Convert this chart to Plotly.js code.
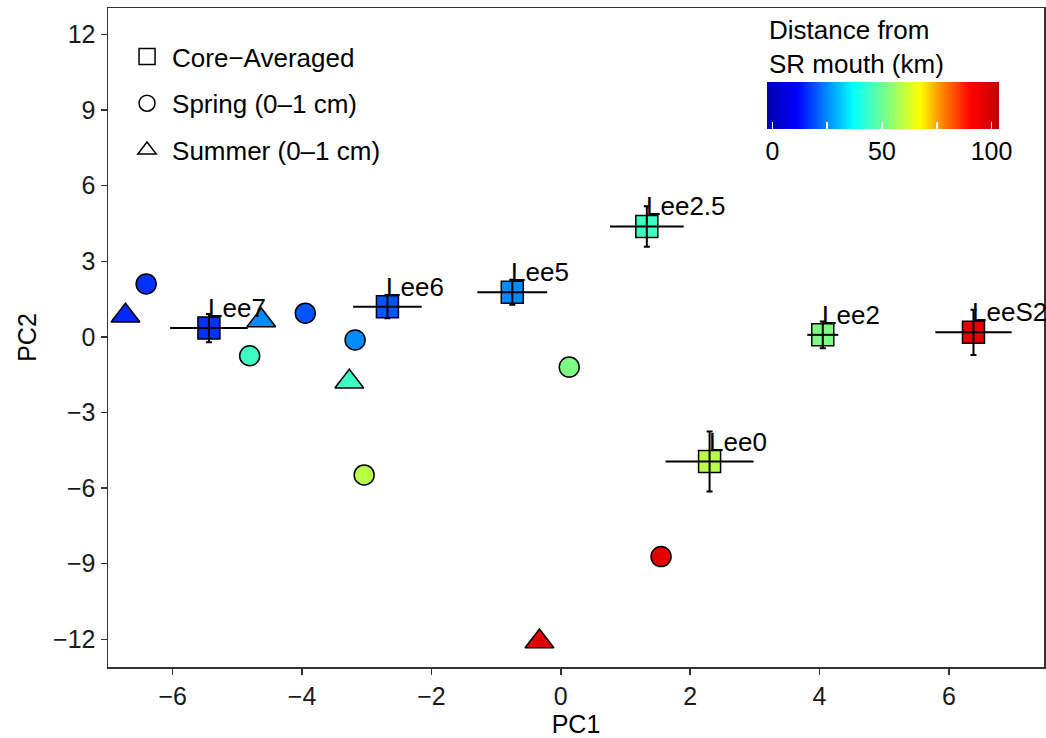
<!DOCTYPE html>
<html>
<head>
<meta charset="utf-8">
<script src="https://cdn.plot.ly/plotly-3.0.1.min.js"></script>
<style>html,body{margin:0;padding:0;background:#fff;}#chart{width:1046px;height:738px;}</style>
</head>
<body>
<div id="chart"></div>
<script>
// Core-averaged samples
var coreLabels = ['Lee7', 'Lee6', 'Lee5', 'Lee2.5', 'Lee2', 'Lee0', 'LeeS2'];
var coreX      = [-5.44, -2.68, -0.75, 1.33, 4.05, 2.30, 6.38];
var coreY      = [0.35, 1.20, 1.77, 4.38, 0.08, -4.95, 0.18];
var coreXErr   = [0.60, 0.53, 0.54, 0.57, 0.24, 0.68, 0.59];
var coreYErr   = [0.56, 0.46, 0.50, 0.80, 0.53, 1.19, 0.90];
var coreDist   = [16, 19.5, 25, 44, 52, 59, 96];

// Spring (0-1 cm) samples
var springX    = [-6.41, -3.95, -3.18, -4.81, 0.13, -3.04, 1.55];
var springY    = [2.10, 0.94, -0.12, -0.75, -1.20, -5.48, -8.72];
var springDist = [16, 19.5, 25, 44, 52, 59, 96];

// Summer (0-1 cm) samples
var summerX    = [-6.73, -4.63, -3.27, -0.33];
var summerY    = [0.84, 0.65, -1.78, -12.09];
var summerDist = [15, 25, 44, 96];

// Colour bar
var cbTitle    = 'Distance from<br>SR mouth (km)';
var cbTickVals = [0, 25, 50, 75, 100];
var cbTickText = ['0', '', '50', '', '100'];

var jet = [
  [0, '#0000B0'], [0.13, '#0000FF'], [0.25, '#0080FF'], [0.37, '#00FFFF'],
  [0.52, '#80FF80'], [0.66, '#FFFF00'], [0.76, '#FF8000'], [0.88, '#FF0000'], [1, '#C00000']
];
var cmin = -2.7, cmax = 103.2;
var FONT = 'Liberation Sans, Arial, Helvetica, sans-serif';
var outline = {color: '#000', width: 1.5};

var traces = [
  {
    x: springX, y: springY, mode: 'markers', type: 'scatter', showlegend: false, hoverinfo: 'x+y',
    marker: {symbol: 'circle', size: 20, color: springDist, colorscale: jet, cmin: cmin, cmax: cmax, line: outline}
  },
  {
    x: summerX, y: summerY, mode: 'markers', type: 'scatter', showlegend: false, hoverinfo: 'x+y',
    marker: {symbol: 'triangle-up', size: 25, color: summerDist, colorscale: jet, cmin: cmin, cmax: cmax, line: outline}
  },
  {
    x: coreX, y: coreY, mode: 'markers', type: 'scatter', showlegend: false, hoverinfo: 'x+y',
    marker: {
      symbol: 'square', size: 22, color: coreDist, colorscale: jet, cmin: cmin, cmax: cmax, line: outline,
      showscale: true,
      colorbar: {
        orientation: 'h', xref: 'paper', yref: 'paper',
        x: 0.8275, xanchor: 'center', y: 0.8877, yanchor: 'top',
        len: 232, lenmode: 'pixels', thickness: 47, thicknessmode: 'pixels',
        outlinewidth: 0, xpad: 0, ypad: 0, bgcolor: 'rgba(255,255,255,0)',
        tickmode: 'array', tickvals: cbTickVals, ticktext: cbTickText,
        ticks: 'inside', ticklen: 7, tickwidth: 1.5, tickcolor: '#ffffff',
        tickfont: {size: 25, color: '#000', family: FONT}
      }
    }
  },
  {
    x: coreX, y: coreY, mode: 'markers', type: 'scatter', showlegend: false, hoverinfo: 'skip',
    marker: {size: 2, opacity: 0},
    error_x: {type: 'data', array: coreXErr, visible: true, color: '#000', thickness: 2, width: 0},
    error_y: {type: 'data', array: coreYErr, visible: true, color: '#000', thickness: 2, width: 3}
  },
  {
    x: [null], y: [null], mode: 'markers', type: 'scatter', name: 'Core\u2212Averaged', legendgroup: 'a',
    marker: {symbol: 'square', size: 16, color: '#fff', line: {color: '#000', width: 1.5}}
  },
  {
    x: [null], y: [null], mode: 'markers', type: 'scatter', name: 'Spring (0\u20131 cm)', legendgroup: 'b',
    marker: {symbol: 'circle', size: 16, color: '#fff', line: {color: '#000', width: 1.5}}
  },
  {
    x: [null], y: [null], mode: 'markers', type: 'scatter', name: 'Summer (0\u20131 cm)', legendgroup: 'c',
    marker: {symbol: 'triangle-up', size: 16, color: '#fff', line: {color: '#000', width: 1.5}}
  }
];

var annotations = coreLabels.map(function (lab, i) {
  return {
    x: coreX[i], y: coreY[i], xref: 'x', yref: 'y', text: lab, showarrow: false,
    xanchor: 'left', yanchor: 'bottom', xshift: -3, yshift: 3,
    font: {size: 26, color: '#000', family: FONT}
  };
});
annotations.push({
  xref: 'paper', yref: 'paper', x: 0.704, y: 0.992, xanchor: 'left', yanchor: 'top',
  text: cbTitle, align: 'left', showarrow: false,
  font: {size: 26, color: '#000', family: FONT}
});

var axisCommon = {
  showgrid: false, zeroline: false, showline: true, mirror: true,
  linecolor: '#333', linewidth: 1.5, ticks: 'outside', ticklen: 6, tickwidth: 1.5, tickcolor: '#333',
  tickfont: {size: 25, color: '#1a1a1a', family: FONT}
};

var layout = {
  width: 1046, height: 738,
  margin: {l: 108, r: 2, t: 8, b: 71},
  paper_bgcolor: '#fff', plot_bgcolor: '#fff',
  font: {family: FONT, color: '#000'},
  showlegend: true,
  legend: {
    x: 0.015, y: 0.962, xanchor: 'left', yanchor: 'top', itemwidth: 40,
    bgcolor: 'rgba(255,255,255,0)', font: {size: 26, color: '#000', family: FONT},
    tracegroupgap: 10, traceorder: 'grouped'
  },
  xaxis: Object.assign({}, axisCommon, {
    range: [-7.0, 7.47], tickmode: 'array', tickvals: [-6, -4, -2, 0, 2, 4, 6],
    title: {text: 'PC1', font: {size: 25, color: '#000', family: FONT}, standoff: 10}
  }),
  yaxis: Object.assign({}, axisCommon, {
    range: [-13.1, 13.05], tickmode: 'array', tickvals: [-12, -9, -6, -3, 0, 3, 6, 9, 12],
    title: {text: 'PC2', font: {size: 25, color: '#000', family: FONT}, standoff: 9}
  }),
  annotations: annotations
};

Plotly.newPlot('chart', traces, layout, {displayModeBar: false, staticPlot: true});
</script>
</body>
</html>
